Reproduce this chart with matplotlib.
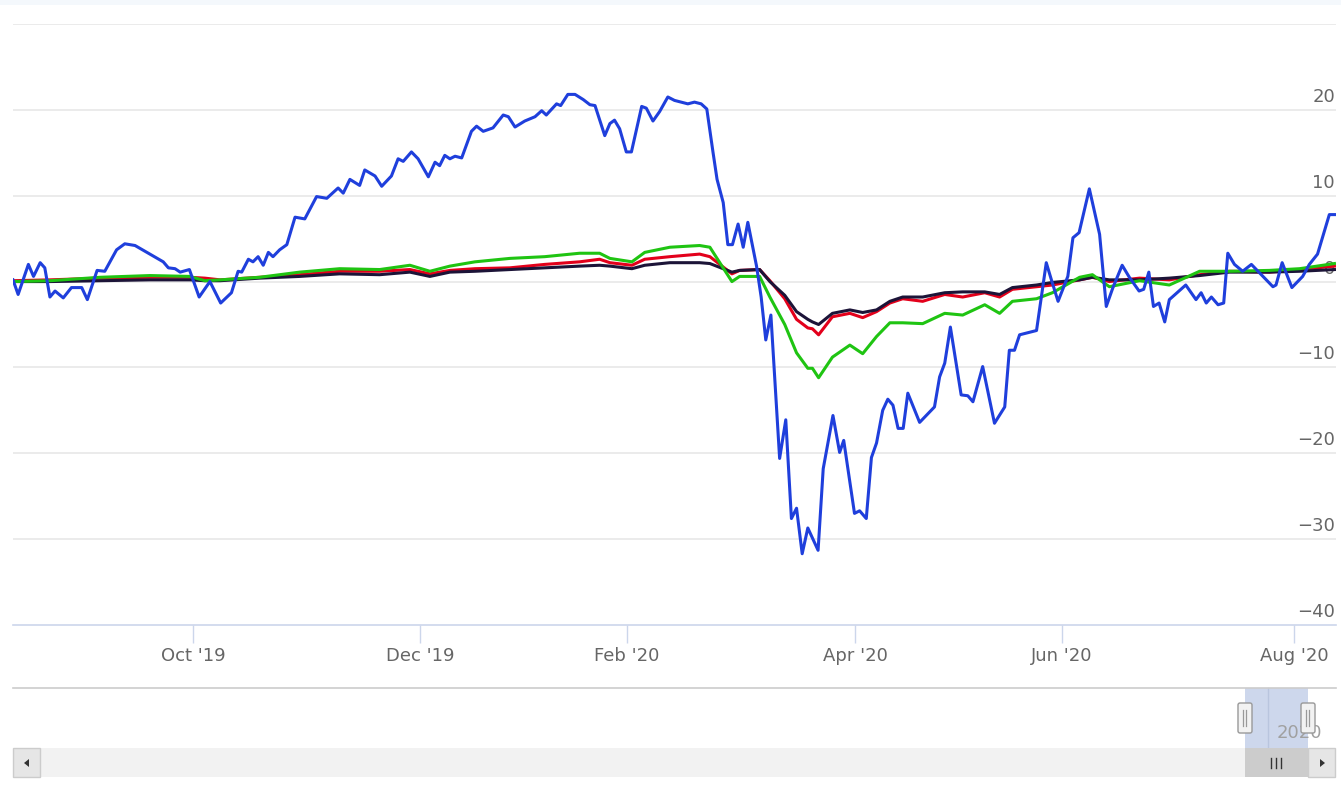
import matplotlib
matplotlib.use('Agg')
import matplotlib.pyplot as plt
import matplotlib.transforms as mtransforms
from matplotlib.patches import Rectangle, FancyBboxPatch, Polygon

# x = trading-day index on the ordinal axis (weekends skipped), values in %
blue_x = [0, 1.0, 3.0, 4.0, 5.3, 6.2, 7.2, 8.2, 9.8, 11.4, 13.4, 14.5, 16.4, 17.9, 20.2, 21.8,
          23.8, 26.1, 29.3, 30.3, 31.6, 32.6, 34.4, 36.3, 38.4, 40.5, 42.6, 43.9, 44.6, 45.9,
          46.8, 47.8, 48.8, 49.8, 50.7, 52.0, 53.4, 55.0, 56.9, 59.2, 61.2, 63.4, 64.4, 65.7,
          67.6, 68.6, 70.6, 71.9, 73.8, 75.1, 76.1, 77.7, 79.0, 81.0, 82.3, 83.2, 84.2, 85.2,
          86.2, 87.5, 89.4, 90.4, 91.7, 93.6, 95.6, 96.6, 97.9, 99.8, 101.8, 103.1, 104.0, 106.0,
          106.8, 108.2, 109.6, 111.2, 112.5, 113.5, 115.4, 116.4, 117.3, 118.3, 119.6, 120.6,
          122.6, 123.5, 124.8, 126.1, 127.7, 129.0, 131.6, 132.9, 134.2, 135.3, 136.5, 137.3,
          138.5, 139.4, 140.3, 141.4, 142.4, 143.3, 145.0, 145.9, 146.8, 147.8, 149.5, 150.7,
          151.8, 152.8, 153.9, 155.0, 157.0, 158.0, 159.9, 161.2, 162.0, 164.1, 165.1, 166.4,
          167.4, 168.4, 169.6, 170.6, 171.6, 172.6, 173.6, 174.5, 176.8, 179.7, 180.7, 181.7,
          182.8, 184.9, 186.2, 187.2, 189.1, 191.4, 193.4, 194.3, 195.3, 196.3, 197.6, 199.6,
          201.5, 202.5, 203.8, 205.7, 206.7, 207.9, 209.9, 211.9, 213.2, 214.5, 216.3, 217.7,
          219.6, 220.5, 221.5, 222.4, 223.5, 224.6, 225.5, 228.7, 230.7, 231.7, 232.7, 233.7,
          235.0, 236.1, 236.9, 238.2, 239.8, 241.5, 242.8, 245.7, 246.3, 247.5, 249.4, 251.5,
          252.8, 254.4, 256.7, 257.7]
blue_y = [0.2, -1.5, 2.0, 0.6, 2.2, 1.6, -1.8, -1.1, -1.9, -0.7, -0.7, -2.1, 1.3, 1.2, 3.7, 4.4,
          4.2, 3.4, 2.3, 1.6, 1.5, 1.1, 1.4, -1.8, 0.0, -2.5, -1.3, 1.2, 1.1, 2.6,
          2.3, 2.9, 1.9, 3.4, 2.9, 3.7, 4.3, 7.5, 7.3, 9.9, 9.7, 10.9, 10.3, 11.9,
          11.2, 13.0, 12.3, 11.1, 12.3, 14.3, 14.0, 15.1, 14.3, 12.2, 13.9, 13.5, 14.7, 14.3,
          14.6, 14.4, 17.5, 18.1, 17.5, 17.9, 19.4, 19.2, 18.0, 18.7, 19.2, 19.9, 19.4, 20.7,
          20.5, 21.8, 21.8, 21.2, 20.6, 20.5, 17.0, 18.4, 18.8, 17.8, 15.1, 15.1,
          20.4, 20.2, 18.7, 19.8, 21.5, 21.1, 20.7, 20.9, 20.7, 20.1, 15.1, 11.9,
          9.2, 4.3, 4.3, 6.7, 4.0, 6.9, 1.8, -1.8, -6.8, -3.9, -20.6, -16.1,
          -27.6, -26.4, -31.7, -28.7, -31.3, -21.8, -15.6, -19.9, -18.5, -27.0, -26.7, -27.6,
          -20.5, -18.8, -15.0, -13.7, -14.4, -17.1, -17.1, -13.0, -16.4, -14.6, -11.1, -9.5,
          -5.3, -13.2, -13.3, -14.0, -9.9, -16.5, -14.6, -8.0, -8.0, -6.2, -6.0, -5.7,
          2.2, 0.2, -2.3, 0.6, 5.1, 5.7, 10.8, 5.5, -2.9, -0.7, 1.9, 0.5,
          -1.1, -0.9, 1.1, -2.9, -2.5, -4.7, -2.1, -0.4, -2.1, -1.3, -2.5, -1.8,
          -2.7, -2.5, 3.3, 2.0, 1.2, 2.0, 1.2, -0.6, -0.4, 2.2, -0.7, 0.6,
          2.0, 3.2, 7.8, 7.8]

lines_x = [0, 7.2, 17.0, 26.7, 34.5, 37.4, 40.4, 48.1, 55.9, 63.7, 71.5, 77.4, 81.3, 85.2,
           90.1, 96.9, 103.7, 110.5, 114.4, 116.4, 120.7, 123.2, 128.1, 133.9, 135.9, 140.2,
           141.7, 145.6, 147.6, 150.5, 152.8, 155.0, 155.9, 157.1, 159.8, 163.2, 165.7, 168.4,
           171.0, 173.5, 177.4, 181.7, 185.2, 189.5, 192.4, 194.9, 199.6, 202.7, 208.0, 210.5,
           213.8, 219.7, 225.5, 231.4, 237.2, 245.0, 250.9, 257.7]
green_y = [0.0, 0.1, 0.5, 0.7, 0.6, 0.1, 0.2, 0.5, 1.1, 1.5, 1.4, 1.9, 1.2, 1.8,
           2.3, 2.7, 2.9, 3.3, 3.3, 2.7, 2.3, 3.4, 4.0, 4.2, 4.0, 0.0,
           0.6, 0.6, -1.8, -5.0, -8.3, -10.1, -10.1, -11.2, -8.8, -7.4, -8.4, -6.4,
           -4.8, -4.8, -4.9, -3.7, -3.9, -2.7, -3.7, -2.3, -2.0, -1.3, 0.5, 0.8,
           -0.6, 0.1, -0.4, 1.2, 1.2, 1.3, 1.5, 2.1]
red_y = [0.1, 0.2, 0.4, 0.5, 0.5, 0.4, 0.2, 0.5, 0.8, 1.2, 1.2, 1.4, 0.9, 1.3,
         1.5, 1.6, 2.0, 2.3, 2.6, 2.2, 1.9, 2.6, 2.9, 3.2, 2.9, 0.9,
         1.3, 1.4, 0.1, -2.0, -4.4, -5.4, -5.5, -6.2, -4.1, -3.7, -4.2, -3.5,
         -2.5, -2.0, -2.3, -1.5, -1.8, -1.3, -1.8, -0.9, -0.6, -0.4, 0.2, 0.5,
         0.0, 0.4, 0.2, 0.8, 1.2, 1.1, 1.4, 1.8]
dark_y = [0.0, 0.0, 0.1, 0.2, 0.2, 0.1, 0.1, 0.4, 0.6, 0.9, 0.8, 1.1, 0.6, 1.1,
          1.2, 1.4, 1.6, 1.8, 1.9, 1.8, 1.5, 1.9, 2.2, 2.2, 2.1, 1.1,
          1.3, 1.4, 0.0, -1.6, -3.5, -4.4, -4.7, -5.0, -3.7, -3.3, -3.6, -3.3,
          -2.3, -1.8, -1.8, -1.3, -1.2, -1.2, -1.5, -0.7, -0.4, -0.1, 0.2, 0.5,
          0.2, 0.2, 0.4, 0.7, 1.1, 1.1, 1.2, 1.4]

month_pos = [35.1, 79.4, 119.7, 164.2, 204.6, 249.8]
month_labels = ["Oct '19", "Dec '19", "Feb '20", "Apr '20", "Jun '20", "Aug '20"]
y_ticks = [-40, -30, -20, -10, 0, 10, 20, 30]
y_labels = [-40, -30, -20, -10, 0, 10, 20]

W, H = 1341, 800
fig = plt.figure(figsize=(W / 100, H / 100), dpi=100)

# chrome layer in pixel coordinates (navigator + scrollbar)
ui = fig.add_axes([0, 0, 1, 1], zorder=0)
ui.set_xlim(0, W)
ui.set_ylim(H, 0)
ui.axis('off')
ui.add_patch(Rectangle((0, 0), W, 5, fc='#f4f8fc', ec='none'))
ui.plot([13, 1336], [688, 688], color='#cccccc', lw=1.2)
ui.add_patch(Rectangle((1245, 688), 63, 60, fc='#cdd7ec', ec='none', zorder=0.2))
ui.plot([1268, 1268], [688, 748], color='#b9c5de', lw=1.0, zorder=0.3)
ui.text(1277, 733, '2020', fontsize=13, color='#a0a0a0', ha='left', va='center', zorder=0.5)
for hx in [1238, 1301]:
    ui.add_patch(FancyBboxPatch((hx, 703), 14, 30, boxstyle='round,pad=0,rounding_size=2',
                                fc='#f2f2f2', ec='#999999', lw=1.0, zorder=3))
    for lx in [hx + 5.5, hx + 8.5]:
        ui.plot([lx, lx], [710, 726], color='#999999', lw=0.9, zorder=4)
ui.add_patch(Rectangle((13, 748), 1323, 29, fc='#f2f2f2', ec='none'))
ui.add_patch(Rectangle((1245, 748), 63, 29, fc='#cccccc', ec='none'))
for gx in [1271, 1276, 1281]:
    ui.plot([gx, gx], [758, 768], color='#333333', lw=1.0)
ui.add_patch(Rectangle((13, 748), 27, 29, fc='#e6e6e6', ec='#cccccc', lw=1.0))
ui.add_patch(Rectangle((1308, 748), 27, 29, fc='#e6e6e6', ec='#cccccc', lw=1.0))
ui.add_patch(Polygon([[24, 763], [29, 759], [29, 767]], closed=True, fc='#333333', ec='none'))
ui.add_patch(Polygon([[1325, 763], [1320, 759], [1320, 767]], closed=True, fc='#333333', ec='none'))

# main plot
ax = fig.add_axes([13 / W, 175 / H, 1323 / W, 601 / H], zorder=1)
ax.set_facecolor('none')
ax.set_xlim(0, 258)
ax.set_ylim(-40, 30)
for s in ax.spines.values():
    s.set_visible(False)

for v in y_ticks[1:]:
    ax.axhline(v, color='#e6e6e6', lw=1.1, zorder=0)
ax.axhline(-40, color='#ccd6eb', lw=1.2, zorder=0, clip_on=False)

lab_tr = mtransforms.offset_copy(
    mtransforms.blended_transform_factory(ax.transAxes, ax.transData),
    fig=fig, x=-1, y=4, units='dots')
for v in y_labels:
    ax.text(1.0, v, str(v).replace('-', '\u2212'), transform=lab_tr, ha='right', va='bottom',
            fontsize=13, color='#666666', zorder=1)

ax.plot(lines_x, red_y, color='#e3001b', lw=2.2, zorder=2, solid_joinstyle='round')
ax.plot(lines_x, dark_y, color='#1c1438', lw=2.2, zorder=3, solid_joinstyle='round')
ax.plot(lines_x, green_y, color='#1fc412', lw=2.2, zorder=4, solid_joinstyle='round')
ax.plot(blue_x, blue_y, color='#1f3fdc', lw=2.2, zorder=5, solid_joinstyle='round')

ax.set_yticks([])
ax.set_xticks(month_pos, month_labels)
ax.tick_params(axis='x', length=13, width=1.0, color='#ccd6eb', pad=3,
               labelsize=13, labelcolor='#666666')

fig.savefig('out.png', dpi=100)
